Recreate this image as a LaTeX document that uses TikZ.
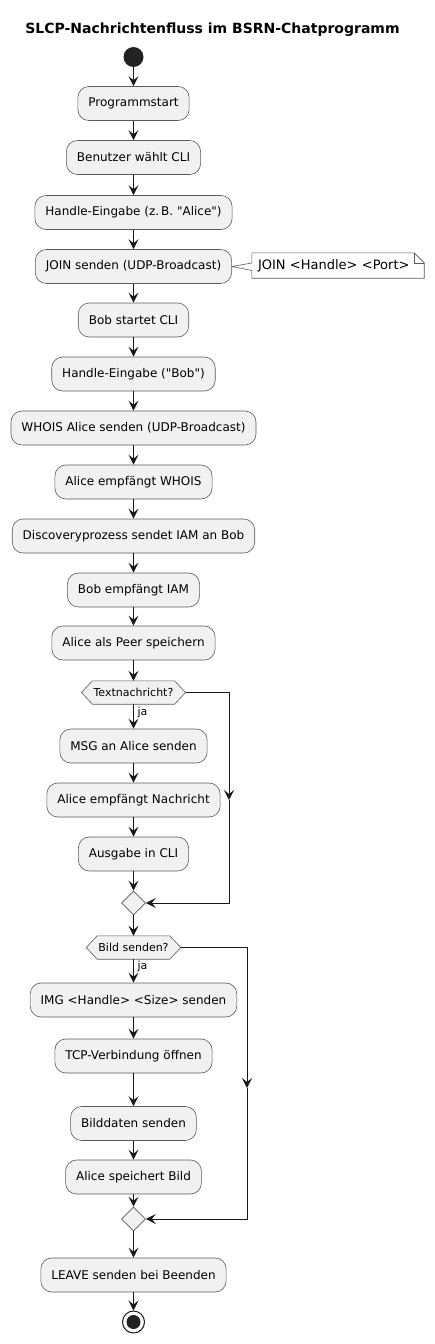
\documentclass[tikz,border=0pt]{standalone}
\usepackage{fontspec}
\setmainfont{DejaVu Sans}[Ligatures=TeXOff]
\usetikzlibrary{arrows.meta,calc,shapes.geometric,backgrounds}
\definecolor{boxfill}{HTML}{F1F1F1}
\definecolor{linec}{HTML}{181818}
\definecolor{borderc}{HTML}{5A5A5A}
\definecolor{startc}{HTML}{222222}
\begin{document}
\begin{tikzpicture}[x=1pt,y=-1pt,
  act/.style={draw=borderc, fill=boxfill, rounded corners=11pt, minimum height=34pt, inner xsep=10.5pt, inner ysep=0pt, line width=0.6pt, font=\fontsize{12}{14}\selectfont},
  dec/.style={minimum height=23pt, inner xsep=12pt, inner ysep=0pt, font=\fontsize{11}{13}\selectfont},
  hex/.style={draw=borderc, fill=boxfill, line width=0.6pt},
  merge/.style={diamond, draw=borderc, fill=boxfill, line width=0.6pt, minimum width=24pt, minimum height=24pt, inner sep=0pt},
  arr/.style={draw=linec, line width=1pt, -{Stealth[length=10pt,width=10pt,inset=4pt]}},
  lbl/.style={font=\fontsize{11}{13}\selectfont, inner sep=0pt},
  notebox/.style={text width=160pt, inner xsep=6pt, inner ysep=0pt, minimum height=25pt, align=left, font=\fontsize{13}{15}\selectfont},
]
\useasboundingbox (0,0) rectangle (435,1344);

\node[font=\bfseries\fontsize{14}{16}\selectfont, anchor=base] (title) at (212.5,33) {SLCP-Nachrichtenfluss im BSRN-Chatprogramm};

\node[circle, fill=startc, minimum size=20pt, inner sep=0pt] (start) at (133.5,57) {};

\node[act] (b1) at (133.5,103.5) {Programmstart};
\node[act] (b2) at (133.5,157.5) {Benutzer wählt CLI};
\node[act] (b3) at (133.5,212.5) {Handle-Eingabe (z.\,B. "Alice")};
\node[act] (b4) at (133.5,266.5) {JOIN senden (UDP-Broadcast)};
\node[act] (b5) at (133.5,320) {Bob startet CLI};
\node[act] (b6) at (133.5,374) {Handle-Eingabe ("Bob")};
\node[act] (b7) at (133.5,428) {WHOIS Alice senden (UDP-Broadcast)};
\node[act] (b8) at (133.5,482) {Alice empfängt WHOIS};
\node[act] (b9) at (133.5,536) {Discoveryprozess sendet IAM an Bob};
\node[act] (b10) at (133.5,590) {Bob empfängt IAM};
\node[act] (b11) at (133.5,643) {Alice als Peer speichern};
\node[dec] (d1) at (133.5,692.5) {Textnachricht?};
\node[act] (b12) at (133.5,746) {MSG an Alice senden};
\node[act] (b13) at (133.5,800) {Alice empfängt Nachricht};
\node[act] (b14) at (133.5,854) {Ausgabe in CLI};
\node[merge] (m1) at (133.5,903) {};
\node[dec] (d2) at (133.5,947.5) {Bild senden?};
\node[act] (b15) at (133.5,1000) {IMG <Handle> <Size> senden};
\node[act] (b16) at (133.5,1056) {TCP-Verbindung öffnen};
\node[act] (b17) at (133.5,1123.5) {Bilddaten senden};
\node[act] (b18) at (133.5,1177) {Alice speichert Bild};
\node[merge] (m2) at (133.5,1219) {};
\node[act] (b19) at (133.5,1275) {LEAVE senden bei Beenden};
\node[circle, draw=linec, line width=1pt, minimum size=22pt, inner sep=0pt] (end) at (133.5,1322) {};
\node[circle, fill=startc, minimum size=14pt, inner sep=0pt] (endin) at (end.center) {};

\node[notebox] (note) at (338,265.5) {JOIN <Handle> <Port>};

\begin{scope}[on background layer]
  \foreach \d in {d1,d2} {
    \draw[hex] (\d.west) -- ($(\d.north west)+(11,0)$) -- ($(\d.north east)+(-11,0)$) -- (\d.east) -- ($(\d.south east)+(-11,0)$) -- ($(\d.south west)+(11,0)$) -- cycle;
  }
  \draw[draw=borderc, fill=white, line width=0.6pt]
    (note.north west) -- ($(note.north east)+(-10,0)$) -- ($(note.north east)+(0,10)$) -- (note.south east) -- (note.south west) -- ($(note.west)+(0,5)$) -- (b4.east) -- ($(note.west)+(0,-2.5)$) -- cycle;
  \draw[draw=borderc, line width=0.6pt] ($(note.north east)+(-10,0)$) -- ($(note.north east)+(-10,10)$) -- ($(note.north east)+(0,10)$);
\end{scope}

\draw[arr] (start) -- (b1);
\draw[arr] (b1) -- (b2);
\draw[arr] (b2) -- (b3);
\draw[arr] (b3) -- (b4);
\draw[arr] (b4) -- (b5);
\draw[arr] (b5) -- (b6);
\draw[arr] (b6) -- (b7);
\draw[arr] (b7) -- (b8);
\draw[arr] (b8) -- (b9);
\draw[arr] (b9) -- (b10);
\draw[arr] (b10) -- (b11);
\draw[arr] (b11) -- (d1);
\draw[arr] (d1) -- (b12);
\node[lbl] (ja1) at (142.5,712) {ja};
\draw[arr] (b12) -- (b13);
\draw[arr] (b13) -- (b14);
\draw[arr] (b14) -- (m1);
\coordinate (c1) at (229,800);
\draw[arr] (d1.east) -| (c1);
\draw[arr] (c1) |- (m1.east);
\draw[arr] (m1) -- (d2);
\draw[arr] (d2) -- (b15);
\node[lbl] (ja2) at (142.5,966) {ja};
\draw[arr] (b15) -- (b16);
\draw[arr] (b16) -- (b17);
\draw[arr] (b17) -- (b18);
\draw[arr] (b18) -- (m2);
\coordinate (c2) at (247,1088);
\draw[arr] (d2.east) -| (c2);
\draw[arr] (c2) |- (m2.east);
\draw[arr] (m2) -- (b19);
\draw[arr] (b19) -- (end);
\end{tikzpicture}
\end{document}
